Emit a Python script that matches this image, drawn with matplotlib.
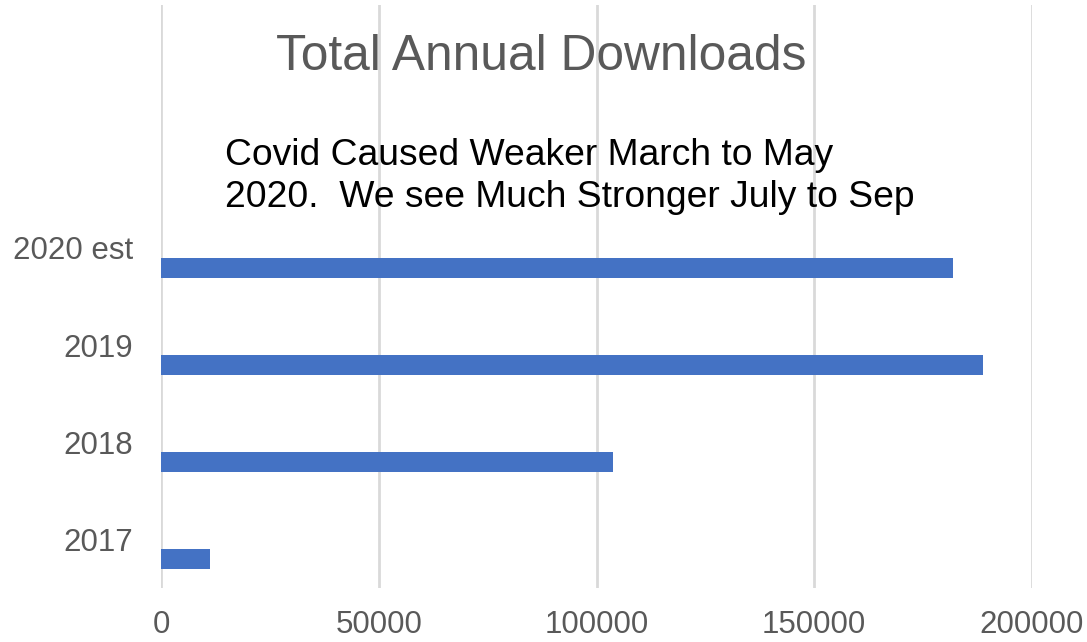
import matplotlib
matplotlib.use("Agg")
import matplotlib.pyplot as plt

categories = ["2017", "2018", "2019", "2020 est"]
downloads = [11250, 103700, 188700, 181800]
x_ticks = [0, 50000, 100000, 150000, 200000]

plt.rcParams['font.family'] = ['Liberation Sans', 'DejaVu Sans']

fig = plt.figure(figsize=(10.87, 6.42), dpi=100)
ax = fig.add_axes([161/1087, (642-588)/642, (1032-161)/1087, 583/642])

n_slots = 6
bar_h = 20/97
ypos = list(range(len(categories)))
ax.barh([y - bar_h for y in ypos], downloads, height=bar_h, color="#4472C4", zorder=3)

ax.set_xlim(0, 200000)
ax.set_ylim(-0.5, n_slots - 0.5)
ax.set_xticks(x_ticks)
ax.set_xticklabels([str(v) for v in x_ticks])
ax.set_yticks(ypos)
ax.set_yticklabels(categories)
ax.grid(axis='x', color="#d9d9d9", linewidth=2, zorder=0)
ax.tick_params(axis='both', length=0, labelsize=22.5, labelcolor="#595959")
ax.tick_params(axis='x', pad=16)
ax.tick_params(axis='y', pad=20)
for s in ax.spines.values():
    s.set_visible(False)

fig.text(541/1087, 1 - 57/642, "Total Annual Downloads", ha='center', va='center',
         fontsize=35.7, color="#595959")
fig.text(225/1087, 1 - 138/642, "Covid Caused Weaker March to May\n2020.  We see Much Stronger July to Sep",
         ha='left', va='top', fontsize=26.8, color="black", linespacing=1.27)

fig.savefig("out.png", dpi=100)
